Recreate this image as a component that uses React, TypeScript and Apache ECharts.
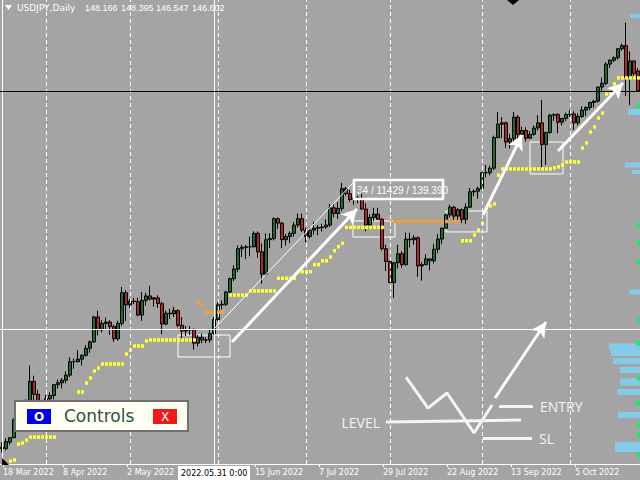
import React, { useEffect, useRef } from "react";
import * as echarts from "echarts";

// ---------- data ----------
const firstDate = "2022-03-17";

// [open, high, low, close] per daily bar, bar index -1 = 17 Mar 2022
const candles: number[][] = [
  [118.70, 119.10, 118.30, 118.60],
  [118.60, 119.40, 118.45, 119.15],
  [119.10, 119.50, 118.90, 119.45],
  [119.45, 120.95, 119.40, 120.85],
  [120.85, 121.40, 120.50, 121.20],
  [121.20, 122.40, 120.90, 122.35],
  [122.35, 122.45, 121.20, 122.05],
  [122.10, 125.10, 122.00, 123.85],
  [123.85, 124.30, 122.40, 122.85],
  [122.85, 123.20, 121.20, 121.85],
  [121.85, 122.40, 121.25, 121.70],
  [121.70, 122.80, 121.60, 122.50],
  [122.50, 123.00, 122.30, 122.75],
  [122.75, 123.65, 122.45, 123.60],
  [123.60, 124.00, 123.30, 123.75],
  [123.75, 124.10, 123.30, 123.95],
  [123.95, 124.65, 123.70, 124.35],
  [124.35, 125.75, 124.20, 125.40],
  [125.40, 125.65, 124.85, 125.40],
  [125.40, 126.30, 125.35, 125.60],
  [125.60, 126.00, 125.10, 125.90],
  [125.90, 126.70, 125.80, 126.45],
  [126.45, 127.05, 126.10, 126.95],
  [126.95, 129.00, 126.90, 128.90],
  [128.90, 129.40, 127.45, 127.90],
  [127.90, 128.65, 127.70, 128.40],
  [128.40, 128.85, 127.90, 128.50],
  [128.50, 128.65, 127.50, 128.15],
  [128.15, 128.30, 126.95, 127.20],
  [127.20, 128.60, 127.05, 128.40],
  [128.40, 131.25, 128.20, 130.80],
  [130.80, 131.00, 128.60, 129.85],
  [129.85, 130.30, 129.60, 130.15],
  [130.15, 130.40, 129.90, 130.10],
  [130.10, 130.40, 128.95, 129.05],
  [129.05, 130.85, 128.60, 130.20],
  [130.20, 130.80, 129.80, 130.55],
  [130.55, 131.35, 130.20, 130.30],
  [130.30, 130.45, 129.70, 130.40],
  [130.40, 130.60, 129.60, 129.95],
  [129.95, 130.10, 127.55, 128.35],
  [128.35, 129.40, 128.25, 129.20],
  [129.20, 129.55, 128.75, 129.15],
  [129.15, 129.70, 128.90, 129.40],
  [129.40, 129.50, 128.10, 128.25],
  [128.25, 128.90, 127.05, 127.80],
  [127.80, 128.20, 127.40, 127.90],
  [127.90, 128.20, 127.50, 127.90],
  [127.90, 128.00, 126.35, 126.85],
  [126.85, 127.50, 126.60, 127.30],
  [127.30, 127.60, 126.85, 127.10],
  [127.10, 127.30, 126.85, 127.10],
  [127.10, 127.90, 126.90, 127.60],
  [127.60, 128.90, 127.50, 128.70],
  [128.70, 130.05, 128.60, 129.85],
  [129.85, 130.20, 129.50, 129.90],
  [129.90, 130.95, 129.75, 130.85],
  [130.85, 132.00, 130.75, 131.90],
  [131.90, 132.95, 131.70, 132.65],
  [132.65, 134.50, 132.40, 134.25],
  [134.25, 134.55, 133.60, 134.35],
  [134.35, 134.55, 133.45, 134.40],
  [134.40, 135.20, 133.65, 134.40],
  [134.40, 135.60, 134.35, 135.45],
  [135.45, 135.60, 133.55, 134.00],
  [134.00, 134.65, 131.50, 132.25],
  [132.25, 135.45, 132.10, 134.95],
  [134.95, 135.45, 134.30, 135.05],
  [135.05, 136.70, 134.90, 136.60],
  [136.60, 136.70, 135.80, 136.25],
  [136.25, 136.35, 134.30, 134.95],
  [134.95, 135.40, 134.50, 135.20],
  [135.20, 135.60, 134.70, 135.45],
  [135.45, 136.35, 135.20, 136.10],
  [136.10, 137.00, 135.90, 136.60],
  [136.60, 137.00, 135.55, 135.70],
  [135.70, 135.90, 134.75, 135.20],
  [135.20, 135.90, 135.05, 135.70],
  [135.70, 136.35, 135.35, 135.85],
  [135.85, 136.10, 135.30, 135.90],
  [135.90, 136.20, 135.60, 135.95],
  [135.95, 136.55, 135.80, 136.10],
  [136.10, 137.75, 135.95, 137.45],
  [137.45, 137.85, 136.70, 137.00],
  [137.00, 137.90, 136.60, 137.40],
  [137.40, 139.40, 137.20, 138.95],
  [138.95, 139.10, 138.40, 138.55],
  [138.55, 138.85, 137.90, 138.10],
  [138.10, 138.45, 137.70, 138.20],
  [138.20, 138.40, 137.80, 138.20],
  [138.20, 138.90, 137.30, 137.35],
  [137.35, 137.80, 135.60, 136.10],
  [136.10, 136.95, 135.95, 136.70],
  [136.70, 137.45, 136.40, 136.95],
  [136.95, 137.45, 136.50, 136.55],
  [136.55, 136.65, 134.10, 134.25],
  [134.25, 134.55, 132.50, 133.25],
  [133.25, 133.35, 131.60, 131.60],
  [131.60, 133.20, 130.40, 133.15],
  [133.15, 134.55, 132.70, 133.85],
  [133.85, 134.05, 132.75, 133.00],
  [133.00, 135.50, 132.90, 135.00],
  [135.00, 135.50, 134.35, 134.95],
  [134.95, 135.30, 134.55, 135.10],
  [135.10, 135.20, 132.05, 132.90],
  [132.90, 133.20, 131.75, 133.00],
  [133.00, 133.80, 132.95, 133.45],
  [133.45, 133.50, 132.55, 133.30],
  [133.30, 134.60, 133.10, 134.20],
  [134.20, 135.40, 133.90, 135.00],
  [135.00, 135.90, 134.60, 135.85],
  [135.85, 137.00, 135.80, 136.90],
  [136.90, 137.70, 136.70, 137.50],
  [137.50, 137.60, 136.25, 136.80],
  [136.80, 137.45, 136.50, 137.30],
  [137.30, 137.40, 136.25, 136.55],
  [136.55, 137.80, 136.20, 137.50],
  [137.50, 139.00, 137.45, 138.70],
  [138.70, 138.90, 138.35, 138.75],
  [138.75, 139.10, 138.15, 138.95],
  [138.95, 140.25, 138.90, 140.20],
  [140.20, 140.80, 139.85, 140.20],
  [140.20, 140.75, 140.00, 140.55],
  [140.55, 143.10, 140.40, 142.95],
  [142.95, 144.95, 142.90, 144.00],
  [144.00, 144.55, 142.90, 144.10],
  [144.10, 144.20, 142.15, 142.60],
  [142.60, 143.25, 142.10, 142.85],
  [142.85, 144.95, 142.55, 144.55],
  [144.55, 144.70, 142.55, 143.20],
  [143.20, 143.80, 142.85, 143.50],
  [143.50, 143.75, 142.65, 142.90],
  [142.90, 143.45, 142.85, 143.20],
  [143.20, 143.90, 143.10, 143.70],
  [143.70, 144.70, 143.50, 144.10],
  [144.10, 145.90, 140.35, 142.40],
  [142.40, 143.40, 140.80, 143.35],
  [143.35, 144.80, 143.25, 144.70],
  [144.70, 144.85, 144.25, 144.75],
  [144.75, 144.85, 143.30, 144.15],
  [144.15, 144.45, 143.90, 144.45],
  [144.45, 144.90, 144.25, 144.75],
  [144.75, 145.10, 144.55, 144.80],
  [144.80, 145.00, 143.55, 144.10],
  [144.10, 144.85, 143.90, 144.60],
  [144.60, 145.40, 144.50, 145.10],
  [145.10, 145.40, 144.65, 145.30],
  [145.30, 145.75, 145.10, 145.70],
  [145.70, 145.90, 145.30, 145.80],
  [145.80, 146.95, 145.70, 146.90],
  [146.90, 147.65, 146.50, 147.20],
  [147.20, 148.85, 147.05, 148.70],
  [148.70, 149.10, 148.40, 149.00],
  [149.00, 149.30, 148.85, 149.20],
  [149.20, 149.95, 149.05, 149.90],
  [149.90, 150.30, 149.75, 150.15],
  [150.15, 151.95, 146.20, 147.65],
  [147.65, 149.70, 145.50, 148.95],
  [148.95, 148.95, 147.60, 147.95],
  [148.17, 148.40, 146.55, 146.60],
];

// indicator dots: [bar index, price]
const yellowDots: number[][] = [
  [1, 117.62], [2, 117.70], [3, 118.95], [4, 119.03], [5, 119.26],
  [6, 119.50], [7, 119.50], [8, 119.50], [9, 119.50], [10, 119.50], [11, 119.50], [12, 119.50],
  [18, 123.03], [19, 123.03], [20, 123.73], [21, 124.12], [22, 124.67], [23, 124.91],
  [24, 125.22], [25, 125.22], [26, 125.22], [27, 125.22], [28, 125.22], [29, 125.22],
  [30, 126.00], [31, 126.32], [32, 126.63], [33, 126.63], [34, 126.63], [35, 127.02],
  [36, 127.10], [37, 127.10], [38, 127.10], [39, 127.10], [40, 127.10], [41, 127.10],
  [42, 127.10], [43, 127.10], [44, 127.10], [45, 127.10], [46, 127.10], [47, 127.10],
  [56, 130.62], [57, 130.62], [58, 130.62], [59, 130.62], [60, 130.62],
  [61, 130.94], [62, 130.94], [63, 130.94], [64, 130.94], [65, 130.94], [66, 130.94], [67, 130.94],
  [68, 131.93], [69, 131.93], [70, 131.93], [71, 131.93], [72, 131.93],
  [73, 132.45], [74, 132.45], [75, 132.45], [76, 132.45],
  [77, 133.00], [78, 133.00], [79, 133.30], [80, 133.30], [81, 133.60], [82, 134.09], [83, 134.40], [84, 134.67],
  [85, 135.92], [86, 135.92], [87, 135.92], [88, 135.92], [89, 135.92],
  [90, 135.92], [91, 135.92], [92, 135.92], [93, 135.92], [94, 135.92],
  [114, 134.87], [115, 134.87], [116, 134.87], [117, 135.32], [118, 135.71], [119, 136.24],
  [120, 137.41], [121, 137.60], [122, 137.75], [123, 140.00],
  [124, 140.49], [125, 140.49], [126, 140.49], [127, 140.49], [128, 140.49], [129, 140.49], [130, 140.49],
  [131, 140.49], [132, 140.49], [133, 140.49], [134, 140.49], [135, 140.49], [136, 140.49],
  [137, 140.57], [138, 140.65], [139, 140.80], [140, 141.04], [141, 141.04], [142, 141.04], [143, 141.04],
  [144, 142.13], [145, 142.53], [146, 143.39], [147, 143.78], [148, 144.48], [149, 144.87],
  [150, 146.36], [151, 146.36], [152, 147.15],
  [153, 147.62], [154, 147.62], [155, 147.62], [156, 147.62], [157, 147.62], [158, 147.62],
];

const orangeDots: number[][] = [
  [48, 130.07], [49, 129.84], [50, 129.29], [51, 129.29], [52, 129.29], [53, 129.29], [54, 129.29],
  [96, 136.57], [97, 136.38], [98, 136.38], [99, 136.38], [100, 136.38], [101, 136.38], [102, 136.38],
  [103, 136.38], [104, 136.38], [105, 136.38], [106, 136.38], [107, 136.38], [108, 136.38],
  [109, 136.38], [110, 136.38], [111, 136.38], [112, 136.38], [113, 136.38],
];

// volume profile at the right edge
const profilePrices = [152.47, 144.95, 140.80, 140.25, 130.86, 126.55, 126.08, 125.45, 124.75, 123.81, 123.03, 121.23, 118.72];
const profileVolumes = [10, 12, 15, 8, 11, 31, 29, 27, 20, 20, 23, 22, 25];
const profileBins = [0.31, 0.47, 0.39, 0.31, 0.39, 0.55, 0.47, 0.47, 0.47, 0.55, 0.47, 0.47, 0.78];
const deltaPrices = [145.42, 136.10, 134.69, 133.21, 128.66, 126.86, 124.12, 122.17, 120.44, 119.66, 118.09];
const deltaVolumes = [3, 3, 3, 3, 3, 4, 3, 4, 3, 3, 3];

// time axis
const tickBars = [0, 15, 31, 63, 79, 95, 111, 127, 143];
const tickLabels = ["18 Mar 2022", "8 Apr 2022", "2 May 2022", "15 Jun 2022", "7 Jul 2022", "29 Jul 2022", "22 Aug 2022", "13 Sep 2022", "5 Oct 2022"];
const monthStartBars = [10, 31, 53, 75, 96, 119, 141];

const crosshairBar = 52;
const crosshairPrice = 127.961;
const measureEnd = [86.75, 139.39];
const lastPrice = 146.602;
const titleValues = ["148.166", "148.395", "146.547", "146.602"];

// annotation boxes [bar1, price1, bar2, price2]
const boxes: number[][] = [
  [43, 127.49, 56, 125.77],
  [86.75, 136.42, 97.25, 135.16],
  [110, 137.2, 120.25, 135.56],
  [131, 142.6, 139.25, 140.1],
];
// arrows [barFrom, priceFrom, barTo, priceTo]
const arrows: number[][] = [
  [56.5, 126.94, 87.75, 137.36],
  [119.25, 136.89, 129, 143.15],
  [138, 141.9, 154.25, 147.22],
  [122.25, 122.56, 135, 128.51],
];
// schematic zigzag [bar, price]
const zigzag: number[][] = [[100, 124.2], [105.5, 121.77], [110.25, 122.95], [117, 119.82], [121.5, 122.01]];
const levelLine = [95, 120.68, 128.75, 120.83];
const entryLine = [123.25, 121.93, 131.75, 121.93];
const slLine = [119.25, 119.42, 131.5, 119.42];

// ---------- helpers ----------
function tradingDates(start: string, count: number): string[] {
  const out: string[] = [];
  const d = new Date(start + "T00:00:00Z");
  while (out.length < count) {
    const wd = d.getUTCDay();
    if (wd !== 0 && wd !== 6) out.push(d.toISOString().slice(0, 10));
    d.setUTCDate(d.getUTCDate() + 1);
  }
  return out;
}

const WHITE = "#FFFFFF";
const SMALL = '"DejaVu Sans", sans-serif';

function buildOption(): any {
  const dates = tradingDates(firstDate, candles.length);
  const labelPos = tickBars.map((b) => b - 0.75);

  const profileRender = (color: string) => (params: any, api: any) => {
    const len = api.value(0);
    const price = api.value(1);
    const bin = api.value(2);
    const end = api.coord([len, price]);
    const start = api.coord([0, price]);
    const h = Math.max(2, api.size([0, bin])[1]);
    return {
      type: "rect",
      shape: { x: end[0], y: end[1] - h / 2, width: start[0] - end[0], height: h },
      style: { fill: color },
    };
  };

  const pairLine = (l: number[], extra: any) => [
    { coord: [l[0], l[1]], ...extra },
    { coord: [l[2], l[3]] },
  ];

  return {
    animation: false,
    backgroundColor: "#A4A4A4",
    grid: { left: 0, right: 0, top: 0, bottom: 16, containLabel: false },
    xAxis: [
      { type: "category", data: dates, show: false, boundaryGap: true },
      {
        type: "value",
        min: -1.5,
        max: 158.5,
        position: "bottom",
        splitLine: { show: false },
        axisLine: { show: true, onZero: false, lineStyle: { color: WHITE, width: 1 } },
        axisTick: { show: true, customValues: labelPos, length: 3, lineStyle: { color: WHITE } },
        axisLabel: {
          customValues: labelPos,
          formatter: (v: number) => {
            const idx = tickBars.indexOf(Math.round(v + 0.75));
            return idx >= 0 ? tickLabels[idx] : "";
          },
          color: WHITE,
          fontFamily: SMALL,
          fontSize: 8,
          align: "left",
          margin: 4,
        },
      },
      { type: "value", min: 0, max: 640, inverse: true, show: false },
    ],
    yAxis: [{ type: "value", min: 117.39, max: 153.72, show: false, splitLine: { show: false } }],
    series: [
      {
        type: "line",
        name: "grid",
        xAxisIndex: 1,
        data: [],
        z: 1,
        markLine: {
          silent: true,
          symbol: ["none", "none"],
          label: { show: false },
          lineStyle: { color: WHITE, type: [4, 3], width: 1 },
          data: monthStartBars.map((b) => ({ xAxis: b })),
        },
      },
      {
        type: "candlestick",
        xAxisIndex: 0,
        barWidth: 3,
        z: 2,
        data: candles.map(([o, h, l, c]) => [o, c, l, h]),
        itemStyle: {
          color: "#1C6A2A",
          color0: "#B8232B",
          borderColor: "#000000",
          borderColor0: "#000000",
          borderWidth: 1,
        },
      },
      {
        type: "line",
        name: "crosshair",
        xAxisIndex: 1,
        data: [],
        z: 3,
        markLine: {
          silent: true,
          symbol: ["none", "none"],
          label: { show: false },
          lineStyle: { color: WHITE, type: "solid", width: 1 },
          data: [
            { xAxis: -1 },
            { xAxis: crosshairBar },
            { yAxis: crosshairPrice },
            { yAxis: lastPrice, lineStyle: { color: "#000000", width: 1, type: "solid" } },
            [{ coord: [crosshairBar, crosshairPrice] }, { coord: measureEnd }],
          ],
        },
      },
      {
        type: "scatter",
        name: "trail-up",
        xAxisIndex: 1,
        data: yellowDots,
        symbol: "rect",
        symbolSize: [3, 3.5],
        symbolOffset: [0.5, 0],
        itemStyle: { color: "#FFFF33", opacity: 1 },
        z: 4,
      },
      {
        type: "scatter",
        name: "trail-down",
        xAxisIndex: 1,
        data: orangeDots,
        symbol: "rect",
        symbolSize: [3, 3.5],
        symbolOffset: [0.5, 0],
        itemStyle: { color: "#F5A030", opacity: 1 },
        z: 4,
      },
      {
        type: "line",
        name: "boxes",
        xAxisIndex: 1,
        data: [],
        z: 5,
        markArea: {
          silent: true,
          label: { show: false },
          itemStyle: { color: "rgba(0,0,0,0)", borderColor: WHITE, borderWidth: 1 },
          data: boxes.map((b) => [{ coord: [b[0], b[1]] }, { coord: [b[2], b[3]] }]),
        },
      },
      {
        type: "line",
        name: "arrows",
        xAxisIndex: 1,
        data: [],
        z: 6,
        markLine: {
          silent: true,
          symbol: ["none", "arrow"],
          symbolSize: [12, 15],
          label: { show: false },
          lineStyle: { color: WHITE, type: "solid", width: 3 },
          data: arrows.map((a) => [{ coord: [a[0], a[1]] }, { coord: [a[2], a[3]] }]),
        },
      },
      {
        type: "line",
        name: "scheme",
        xAxisIndex: 1,
        data: zigzag,
        symbol: "none",
        z: 6,
        lineStyle: { color: "#F4F4F4", width: 3 },
        markLine: {
          silent: true,
          symbol: ["none", "none"],
          lineStyle: { color: "#F4F4F4", type: "solid", width: 3 },
          label: { show: false },
          data: [
            pairLine(levelLine, {
              label: { show: true, position: "start", formatter: "LEVEL", color: "#F4F4F4", fontSize: 14, fontFamily: "Open Sans", distance: 6 },
            }),
            pairLine(entryLine, {
              label: { show: true, position: "end", formatter: "ENTRY", color: "#F4F4F4", fontSize: 14, fontFamily: "Open Sans", distance: 7 },
            }),
            pairLine(slLine, {
              label: { show: true, position: "end", formatter: "SL", color: "#F4F4F4", fontSize: 14, fontFamily: "Open Sans", distance: 7 },
            }),
          ],
        },
      },
      {
        type: "custom",
        name: "profile",
        xAxisIndex: 2,
        z: 7,
        data: profilePrices.map((p, i) => [profileVolumes[i], p, profileBins[i]]),
        renderItem: profileRender("#84CBEA"),
      },
      {
        type: "custom",
        name: "delta",
        xAxisIndex: 2,
        z: 7,
        data: deltaPrices.map((p, i) => [deltaVolumes[i], p, 0.39]),
        renderItem: profileRender("#19E86A"),
      },
    ],
    graphic: [
      { type: "polygon", z: 100, shape: { points: [[5, 5], [12, 5], [8.5, 10]] }, style: { fill: WHITE } },
      { type: "text", z: 100, x: 17, y: 8, style: { text: "USDJPY,Daily", fill: WHITE, font: '9px "DejaVu Sans"', verticalAlign: "middle" } },
      ...titleValues.map((t, i) => ({
        type: "text",
        z: 100,
        x: [85, 121, 156, 192][i],
        y: 8,
        style: { text: t, fill: WHITE, font: '9px "Liberation Sans"', verticalAlign: "middle" },
      })),
      { type: "polygon", z: 100, shape: { points: [[507, 0], [519, 0], [513, 5]] }, style: { fill: "#000" } },
      { type: "polygon", z: 100, shape: { points: [[2, 458], [2, 465], [9, 465]] }, style: { fill: "#000" } },
      { type: "rect", z: 100, shape: { x: 354, y: 180, width: 89, height: 19 }, style: { fill: "none", stroke: WHITE, lineWidth: 2.5 } },
      { type: "text", z: 100, x: 357, y: 190, style: { text: "34 / 11429 / 139.390", fill: WHITE, font: '10px "Liberation Sans"', verticalAlign: "middle" } },
      { type: "rect", z: 100, shape: { x: 178, y: 466, width: 72, height: 14 }, style: { fill: WHITE } },
      { type: "text", z: 100, x: 181, y: 473, style: { text: "2022.05.31 0:00", fill: "#000", font: '8px "DejaVu Sans"', verticalAlign: "middle" } },
      { type: "rect", z: 100, shape: { x: 15, y: 401, width: 173, height: 30 }, style: { fill: "#FFFFF2", stroke: "#707070", lineWidth: 2 } },
      { type: "rect", z: 101, shape: { x: 27, y: 409, width: 24, height: 15 }, style: { fill: "#0000EE" } },
      { type: "text", z: 102, x: 39, y: 417, style: { text: "O", fill: WHITE, font: 'bold 12px "DejaVu Sans"', align: "center", verticalAlign: "middle" } },
      { type: "text", z: 101, x: 64, y: 416, style: { text: "Controls", fill: "#2F4F4F", font: '17px "DejaVu Sans"', verticalAlign: "middle" } },
      { type: "rect", z: 101, shape: { x: 153, y: 409, width: 24, height: 15 }, style: { fill: "#EE1A1A" } },
      { type: "text", z: 102, x: 165, y: 417, style: { text: "X", fill: WHITE, font: '12px "DejaVu Sans"', align: "center", verticalAlign: "middle" } },
    ],
  };
}

export default function App() {
  const ref = useRef<HTMLDivElement>(null);
  useEffect(() => {
    if (!ref.current) return;
    const chart = echarts.init(ref.current, null, { renderer: "svg" });
    chart.setOption(buildOption());
    return () => chart.dispose();
  }, []);
  return <div ref={ref} style={{ position: "fixed", left: 0, top: 0, width: 640, height: 480 }} />;
}
